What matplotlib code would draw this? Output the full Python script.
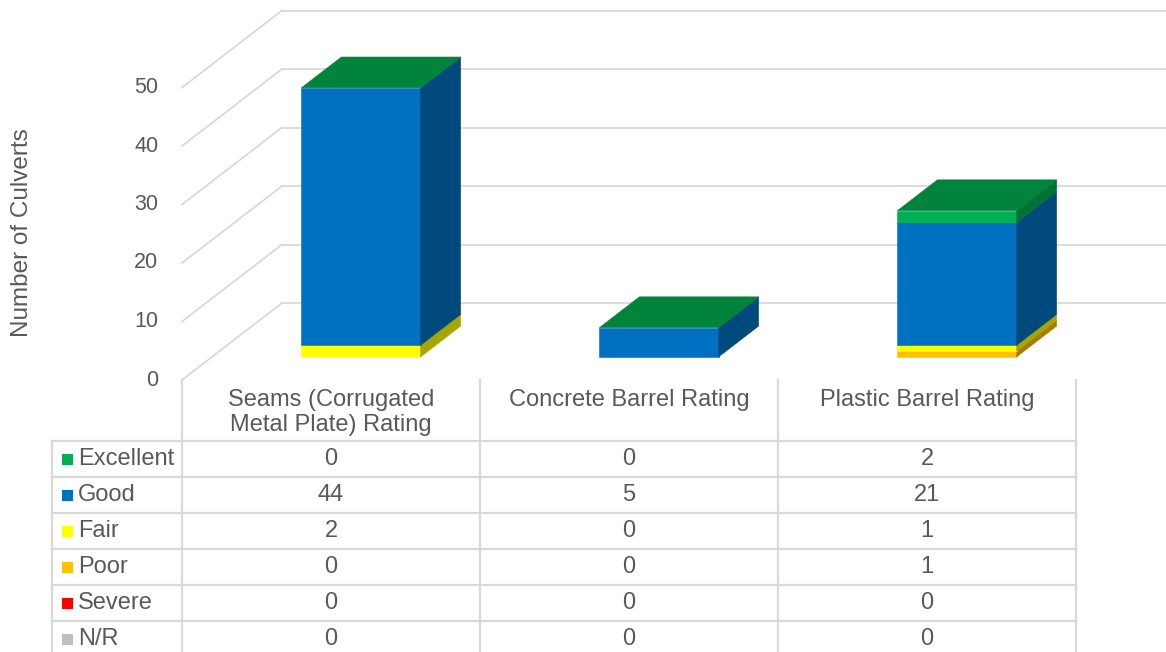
import numpy as np
import matplotlib.pyplot as plt
from matplotlib.patches import Polygon, Rectangle
from matplotlib.colors import to_rgb

# ----- du lieu -----
categories = ['Seams (Corrugated\nMetal Plate) Rating', 'Concrete Barrel Rating', 'Plastic Barrel Rating']
series = ['Excellent', 'Good', 'Fair', 'Poor', 'Severe', 'N/R']
excellent = [0, 0, 2]
good = [44, 5, 21]
fair = [2, 0, 1]
poor = [0, 0, 1]
severe = [0, 0, 0]
nr = [0, 0, 0]
values = [excellent, good, fair, poor, severe, nr]
colors = ['#00B050', '#0070C0', '#FFFF00', '#FFC000', '#FF0000', '#BFBFBF']
yticks = [0, 10, 20, 30, 40, 50]

plt.rcParams['font.family'] = ['Liberation Sans', 'DejaVu Sans']
txt = '#595959'
grid = '#D9D9D9'

W, H = 1166, 652
fig = plt.figure(figsize=(W / 100, H / 100), dpi=100)

# truc bieu do: x = chi so nhom, y = so culvert
px_cat = 298.0      # pixel cho 1 nhom
px_val = 5.85       # pixel cho 1 don vi
x0, y0 = 182.0, 380.0
ax = fig.add_axes([0, 0, 1, 1])
ax.set_xlim(-x0 / px_cat, (W - x0) / px_cat)
ax.set_ylim(-(H - y0) / px_val, y0 / px_val)
ax.axis('off')
DX = 100 / px_cat   # do sau (xien) theo x
DY = 77 / px_val    # do sau theo y

def shade(c, f):
    r, g, b = to_rgb(c)
    return (r * f, g * f, b * f)

# luoi: tuong sau va tuong trai
for v in yticks:
    ax.plot([DX, 4], [v + DY, v + DY], color=grid, lw=1.3, zorder=1)
    ax.plot([0, DX], [v, v + DY], color=grid, lw=1.3, zorder=1)
    ax.text(-0.08, v, str(v), ha='right', va='center', fontsize=15.5, color=txt)

# cot chong 3D
z0, z1 = 0.3, 0.7
bw = 0.4
for i in range(len(categories)):
    xl = i + 0.5 - bw / 2
    xr = i + 0.5 + bw / 2
    bottom = 0
    for k in range(len(series) - 1, -1, -1):
        h = values[k][i]
        top = bottom + h
        c = colors[k]
        if h > 0:
            front = [(xl + z0 * DX, bottom + z0 * DY), (xr + z0 * DX, bottom + z0 * DY),
                     (xr + z0 * DX, top + z0 * DY), (xl + z0 * DX, top + z0 * DY)]
            side = [(xr + z0 * DX, bottom + z0 * DY), (xr + z1 * DX, bottom + z1 * DY),
                    (xr + z1 * DX, top + z1 * DY), (xr + z0 * DX, top + z0 * DY)]
            ax.add_patch(Polygon(front, closed=True, fc=c, ec=c, lw=0.4, zorder=3))
            sc = shade(c, 0.65)
            ax.add_patch(Polygon(side, closed=True, fc=sc, ec=sc, lw=0.4, zorder=3))
        bottom = top
    # mat tren lay mau cua series cuoi (Excellent)
    tc = shade(colors[0], 0.75)
    topf = [(xl + z0 * DX, bottom + z0 * DY), (xr + z0 * DX, bottom + z0 * DY),
            (xr + z1 * DX, bottom + z1 * DY), (xl + z1 * DX, bottom + z1 * DY)]
    ax.add_patch(Polygon(topf, closed=True, fc=tc, ec=tc, lw=0.4, zorder=4))

# ----- bang du lieu -----
tab = fig.add_axes([0, 0, 1, 1])
tab.set_xlim(0, W)
tab.set_ylim(H, 0)
tab.axis('off')
tab.patch.set_alpha(0)

col_x = [x0 + i * px_cat for i in range(len(categories) + 1)]
row_top = 441
row_h = 36
left = 52
fs = 17

for xc in col_x:
    tab.plot([xc, xc], [y0, H + 5], color=grid, lw=1.6)
tab.plot([left, left], [row_top, H + 5], color=grid, lw=1.6)
for r in range(len(series) + 1):
    yy = row_top + r * row_h
    tab.plot([left, col_x[-1]], [yy, yy], color=grid, lw=1.6)

for i, cat in enumerate(categories):
    tab.text((col_x[i] + col_x[i + 1]) / 2, 389, cat, ha='center', va='top',
             fontsize=fs, color=txt, linespacing=1.2)

for r, name in enumerate(series):
    yc = row_top + r * row_h + row_h / 2
    tab.add_patch(Rectangle((62, yc - 5.5), 11, 11, fc=colors[r], ec='none'))
    tab.text(78, yc, name, ha='left', va='center', fontsize=fs, color=txt)
    for i in range(len(categories)):
        tab.text((col_x[i] + col_x[i + 1]) / 2, yc, str(values[r][i]), ha='center',
                 va='center', fontsize=fs, color=txt)

tab.text(22, 233, 'Number of Culverts', rotation=90, ha='center', va='center',
         fontsize=17.5, color=txt)

fig.savefig('out.png', dpi=100)
